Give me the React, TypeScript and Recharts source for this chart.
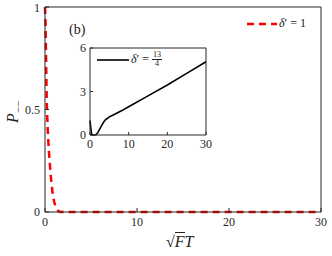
import { LineChart, Line, XAxis, YAxis } from "recharts";

// main panel: P-- vs sqrt(F)T, delta' = 1
const mainX = [0, 0.05, 0.1, 0.15, 0.2, 0.3, 0.4, 0.55, 0.7, 0.85, 1.0, 1.2, 1.45, 1.7, 2, 5, 10, 15, 20, 25, 30];
const mainP = [1, 0.93, 0.8, 0.65, 0.52, 0.4, 0.31, 0.22, 0.14, 0.085, 0.05, 0.02, 0.004, 0, 0, 0, 0, 0, 0, 0, 0];
const mainXTicks = [0, 10, 20, 30];
const mainYTicks = [0, 0.5, 1];

// inset: delta' = 13/4
const insetX = [0, 0.2, 0.4, 0.6, 1.0, 1.5, 2, 2.5, 3, 3.5, 4, 5, 6, 8, 10, 15, 20, 25, 30];
const insetY = [1.0, 0.5, 0.1, 0.0, 0.0, 0.02, 0.15, 0.4, 0.65, 0.88, 1.05, 1.25, 1.38, 1.65, 1.95, 2.7, 3.45, 4.25, 5.05];
const insetXTicks = [0, 10, 20, 30];
const insetYTicks = [0, 3, 6];

const mainData = mainX.map((x, i) => ({ x, p: mainP[i] }));
const insetData = insetX.map((x, i) => ({ x, y: insetY[i] }));

const font = "'Liberation Serif', 'DejaVu Serif', serif";
const axisColor = "#262626";
const tickStyle = { fontSize: 12, fill: "#262626", fontFamily: font };

export default function App() {
  return (
    <div style={{ position: "absolute", left: 0, top: 0, width: 332, height: 256, background: "#fff", fontFamily: font }}>
      <LineChart width={332} height={256} data={mainData} margin={{ top: 6, right: 10, bottom: 0, left: 0 }} style={{ fontFamily: font }}>
        <XAxis
          dataKey="x"
          type="number"
          domain={[0, 30]}
          ticks={mainXTicks}
          stroke={axisColor}
          tickSize={-4}
          tickMargin={9}
          height={44}
          tick={tickStyle}
        />
        <XAxis xAxisId="t" orientation="top" dataKey="x" type="number" domain={[0, 30]} ticks={mainXTicks} stroke={axisColor} tickSize={-4} height={1} tick={false} />
        <YAxis
          type="number"
          domain={[0, 1]}
          ticks={mainYTicks}
          stroke={axisColor}
          tickSize={-4}
          tickMargin={9}
          width={45}
          tick={tickStyle}
        />
        <YAxis yAxisId="r" orientation="right" type="number" domain={[0, 1]} ticks={mainYTicks} stroke={axisColor} tickSize={-4} width={1} tick={false} />
        <Line
          dataKey="p"
          stroke="#ff0000"
          strokeWidth={2.5}
          strokeDasharray="7 5"
          dot={false}
          isAnimationActive={false}
        />
        <Line xAxisId="t" yAxisId="r" dataKey="p" stroke="none" dot={false} legendType="none" isAnimationActive={false} />
      </LineChart>

      {/* legend for the main curve */}
      <div style={{ position: "absolute", left: 246, top: 16, display: "flex", alignItems: "center", fontSize: 12, color: "#222" }}>
        <svg width={31} height={8}>
          <line x1={1} y1={4} x2={31} y2={4} stroke="#ff0000" strokeWidth={2.5} strokeDasharray="7 5" />
        </svg>
        <span style={{ marginLeft: 2 }}>
          <i>δ</i>′ = 1
        </span>
      </div>

      <div style={{ position: "absolute", left: 69, top: 22, fontSize: 14, color: "#222" }}>(b)</div>

      <div
        style={{
          position: "absolute",
          left: 14,
          top: 112,
          transform: "translate(-50%, -50%) rotate(-90deg)",
          fontSize: 16,
          color: "#222",
          whiteSpace: "nowrap",
        }}
      >
        <i>P</i>
        <sub style={{ fontSize: 11 }}>−−</sub>
      </div>

      <div style={{ position: "absolute", left: 166, top: 233, fontSize: 16, color: "#222", whiteSpace: "nowrap" }}>
        √<span style={{ borderTop: "1px solid #222", fontStyle: "italic" }}>F</span>
        <i>T</i>
      </div>

      <div style={{ position: "absolute", left: 70, top: 40, width: 145, height: 115 }}>
        <LineChart width={145} height={115} data={insetData} margin={{ top: 7, right: 8, bottom: 0, left: 0 }} style={{ fontFamily: font }}>
          <XAxis
            dataKey="x"
            type="number"
            domain={[0, 30]}
            ticks={insetXTicks}
            stroke={axisColor}
            tickSize={-3}
            tickMargin={7}
            height={20}
            tick={tickStyle}
          />
          <XAxis xAxisId="t" orientation="top" dataKey="x" type="number" domain={[0, 30]} ticks={insetXTicks} stroke={axisColor} tickLine={false} height={1} tick={false} />
          <YAxis
            type="number"
            domain={[0, 6]}
            ticks={insetYTicks}
            stroke={axisColor}
            tickSize={-3}
            tickMargin={7}
            width={20}
            tick={tickStyle}
          />
          <YAxis yAxisId="r" orientation="right" type="number" domain={[0, 6]} ticks={insetYTicks} stroke={axisColor} tickLine={false} width={1} tick={false} />
          <Line dataKey="y" stroke="#000" strokeWidth={1.6} dot={false} isAnimationActive={false} />
          <Line xAxisId="t" yAxisId="r" dataKey="y" stroke="none" dot={false} isAnimationActive={false} />
        </LineChart>
      </div>

      {/* inset legend */}
      <div style={{ position: "absolute", left: 97, top: 51, display: "flex", alignItems: "center", fontSize: 12, color: "#222" }}>
        <svg width={32} height={6}>
          <line x1={0} y1={3} x2={32} y2={3} stroke="#000" strokeWidth={1.6} />
        </svg>
        <span style={{ marginLeft: 2, display: "flex", alignItems: "center" }}>
          <i>δ</i>′&nbsp;=&nbsp;
          <span style={{ display: "inline-flex", flexDirection: "column", alignItems: "center", fontSize: 8, lineHeight: "8px" }}>
            <span style={{ borderBottom: "0.8px solid #222", padding: "0 1px" }}>13</span>
            <span>4</span>
          </span>
        </span>
      </div>
    </div>
  );
}
